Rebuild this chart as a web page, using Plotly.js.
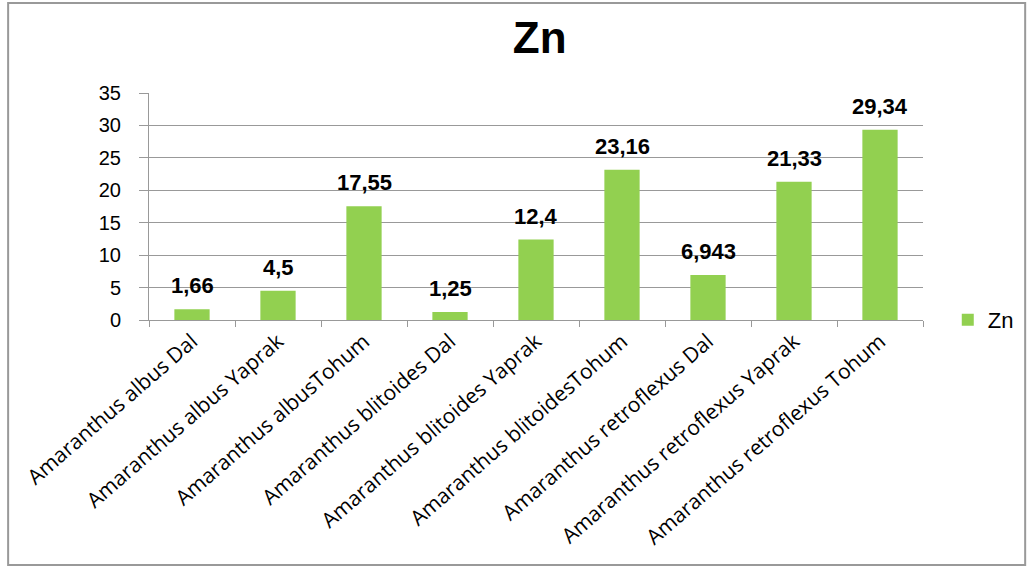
<!DOCTYPE html>
<html><head><meta charset="utf-8">
<script src="https://cdn.plot.ly/plotly-3.0.1.min.js"></script>
<style>html,body{margin:0;padding:0;background:#fff;}#chart{width:1030px;height:567px;}</style>
</head><body><div id="chart"></div>
<script>
const categories = ["Amaranthus albus Dal","Amaranthus albus Yaprak","Amaranthus albusTohum","Amaranthus blitoides Dal","Amaranthus blitoides Yaprak","Amaranthus blitoidesTohum","Amaranthus retroflexus Dal","Amaranthus retroflexus Yaprak","Amaranthus retroflexus Tohum"];
const values = [1.66, 4.5, 17.55, 1.25, 12.4, 23.16, 6.943, 21.33, 29.34];
const labels = ["1,66","4,5","17,55","1,25","12,4","23,16","6,943","21,33","29,34"];
const seriesName = "Zn";
const yTicks = [0,5,10,15,20,25,30,35];

const trace = {
  type: "bar", x: categories, y: values, name: seriesName,
  marker: {color: "#92D050"}, showlegend: true, hoverinfo: "none"
};
const annotations = categories.map((c,i)=>({
  x: c, y: values[i], text: "<b>" + labels[i] + "</b>", showarrow: false,
  yanchor: "bottom", yshift: 9, xref: "x", yref: "y",
  font: {family: "Liberation Sans, Arial", size: 22, color: "#000"}
}));
const layout = {
  width: 1030, height: 567,
  margin: {l: 149, r: 107, t: 93, b: 247, autoexpand: false},
  paper_bgcolor: "#fff", plot_bgcolor: "#fff",
  title: {text: "<b>Zn</b>", x: 0.524, xanchor: "center", y: 0.934, yanchor: "middle",
    font: {family: "Liberation Sans, Arial", size: 44, color: "#000"}},
  bargap: 0.59,
  xaxis: {type: "category", tickangle: -41, showline: true, linecolor: "#999", linewidth: 1,
    ticks: "outside", ticklen: 6, tickcolor: "#999", tickson: "boundaries",
    tickfont: {family: "Open Sans, Lato, Noto Sans", size: 21, color: "#000"},
    showgrid: false, fixedrange: true, automargin: false},
  yaxis: {range: [0, 35], tickvals: yTicks, showline: true, linecolor: "#999", linewidth: 1,
    ticks: "outside", ticklen: 9, tickcolor: "#999",
    gridcolor: "#999", gridwidth: 1, zeroline: false, automargin: false,
    tickfont: {family: "Liberation Sans, Arial", size: 20, color: "#000"}, ticklabelstandoff: 14},
  legend: {x: 1.032, xanchor: "left", y: 0.0, yanchor: "middle", itemwidth: 30,
    font: {family: "Liberation Sans, Arial", size: 22, color: "#000"}},
  annotations: annotations,
  shapes: [{type: "rect", xref: "paper", yref: "paper", x0: -0.182, x1: 1.132, y0: -1.079, y1: 1.396,
    line: {color: "#999", width: 2}, fillcolor: "rgba(0,0,0,0)"}]
};
Plotly.newPlot("chart", [trace], layout, {displayModeBar: false, staticPlot: true});
</script></body></html>
